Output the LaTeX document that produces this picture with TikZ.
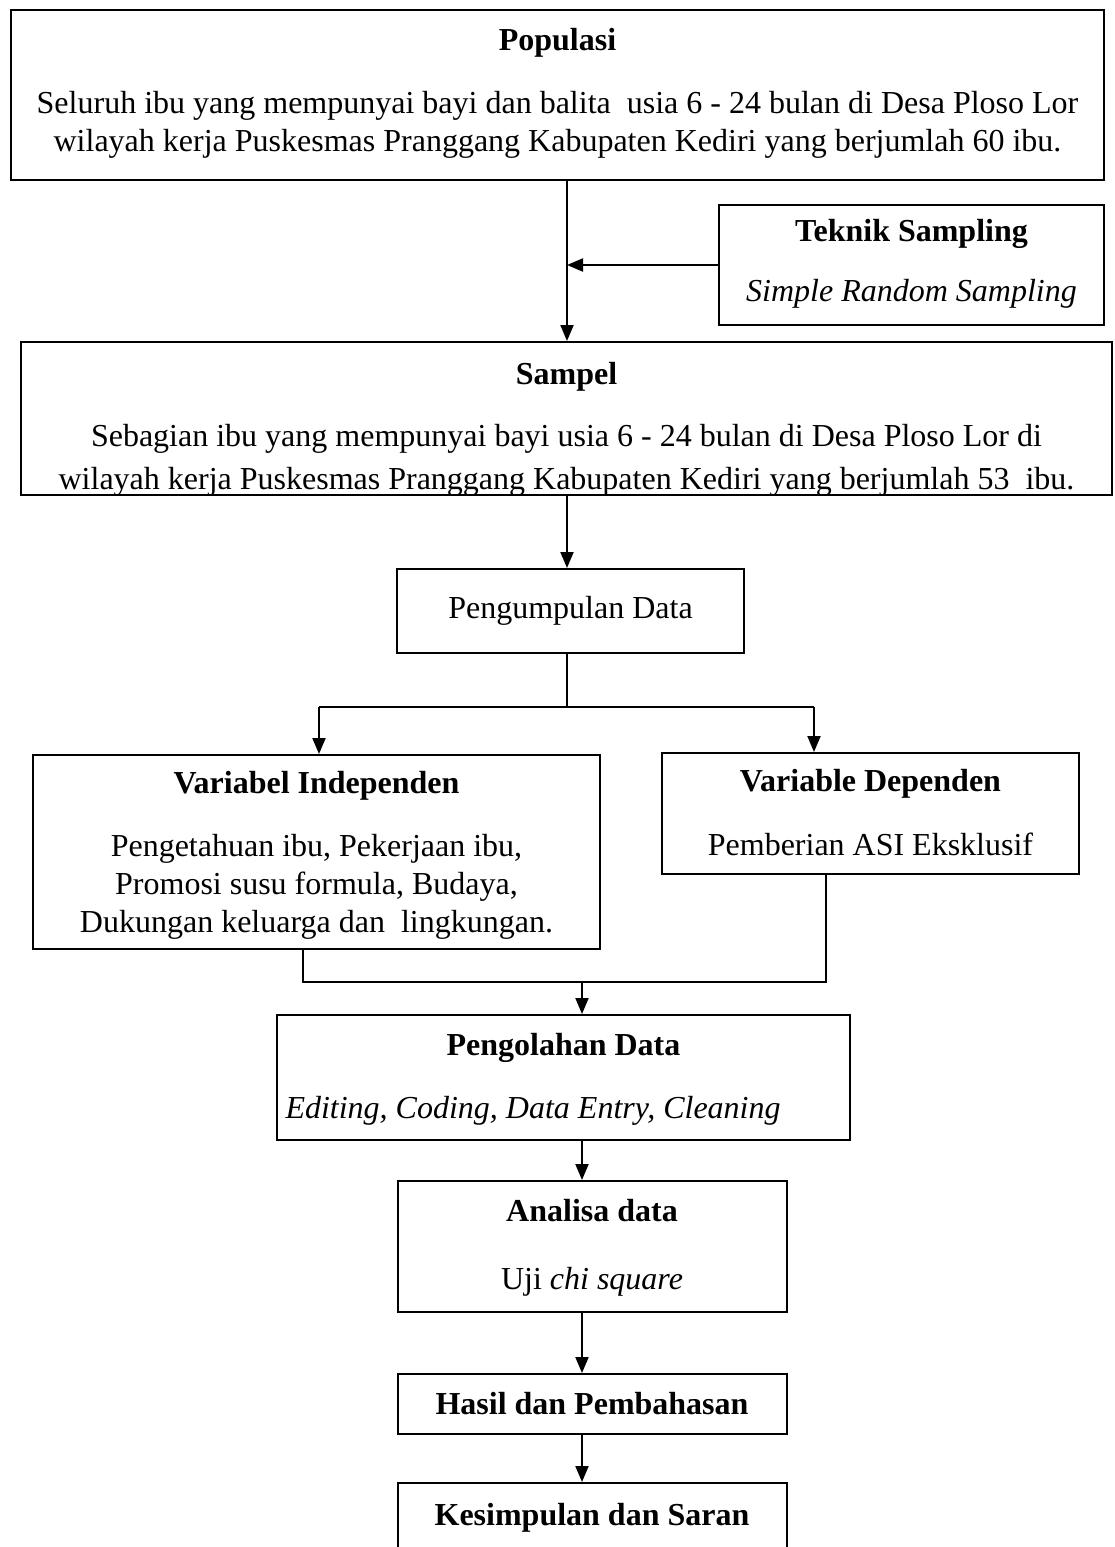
\documentclass[tikz,border=0pt]{standalone}
\usepackage{fontspec}
\setmainfont{Liberation Serif}
\usetikzlibrary{arrows.meta}
\tikzset{>={Triangle[length=8pt,width=6.5pt]}}

\begin{document}
\begin{tikzpicture}[x=0.5pt,y=-0.5pt,line width=1pt,
box/.style={draw,line width=1pt,align=center,inner sep=3pt,
font=\fontsize{16}{19}\selectfont},
low/.style={text height=#1,text depth=0pt}]
\useasboundingbox (0,0) rectangle (1114,1547);
\node[box,low=56pt,minimum width=546.5pt,minimum height=85pt] (pop) at (557.5,95)
{\textbf{Populasi}\\[12.5pt]Seluruh ibu yang mempunyai bayi dan balita\ \ usia 6 - 24 bulan di Desa Ploso Lor\\
wilayah kerja Puskesmas Pranggang Kabupaten Kediri yang berjumlah 60 ibu.};
\node[box,low=36pt,minimum width=192.5pt,minimum height=60pt] (tek) at (911.5,265)
{\textbf{Teknik Sampling}\\[11pt]\textit{Simple Random Sampling}};
\node[box,low=71pt,inner ysep=0pt,minimum width=545.5pt,minimum height=76.5pt] (sam) at (566.5,418.5)
{\textbf{Sampel}\\[12pt]Sebagian ibu yang mempunyai bayi usia 6 - 24 bulan di Desa Ploso Lor di\\[2.5pt]
wilayah kerja Puskesmas Pranggang Kabupaten Kediri yang berjumlah 53\ \ ibu.};
\node[box,minimum width=173.5pt,minimum height=42pt] (kum) at (570.5,611) {Pengumpulan Data};
\node[box,low=80pt,minimum width=283.5pt,minimum height=97pt] (vi) at (316.5,852)
{\textbf{Variabel Independen}\\[12.5pt]Pengetahuan ibu, Pekerjaan ibu,\\
Promosi susu formula, Budaya,\\Dukungan keluarga dan\ \ lingkungan.};
\node[box,low=41.5pt,minimum width=208.5pt,minimum height=60.5pt] (vd) at (870.5,813.5)
{\textbf{Variable Dependen}\\[13pt]Pemberian ASI Eksklusif};
\node[box,low=40.5pt,minimum width=286.5pt,minimum height=62.5pt] (olah) at (563.5,1077.5)
{\textbf{Pengolahan Data}\\[12.5pt]\makebox[278pt][l]{\textit{Editing, Coding, Data Entry, Cleaning}}};
\node[box,low=42.5pt,minimum width=194.5pt,minimum height=65.5pt] (ana) at (592,1246.5)
{\textbf{Analisa data}\\[15pt]Uji \textit{chi square}};
\node[box,minimum width=194.5pt,minimum height=30pt] (has) at (592,1404) {\textbf{Hasil dan Pembahasan}};
\node[box,minimum width=194.5pt,minimum height=34.5pt] (kes) at (592,1517.5) {\textbf{Kesimpulan dan Saran}};
\coordinate (trunk) at (567,0);
\coordinate (lft) at (319,707);
\coordinate (rgt) at (814,707);
\coordinate (jl) at (303,982);
\coordinate (jr) at (826,982);
\coordinate (jm) at (582,982);
\draw[->] (pop.south -| trunk) -- (sam.north -| trunk);
\draw[->] (tek.west) -- (tek.west -| trunk);
\draw[->] (sam.south -| trunk) -- (kum.north -| trunk);
\draw (kum.south -| trunk) -- (trunk |- lft);
\draw (lft) -- (rgt);
\draw[->] (lft) -- (lft |- vi.north);
\draw[->] (rgt) -- (rgt |- vd.north);
\draw (vi.south -| jl) -- (jl) -- (jr) -- (vd.south -| jr);
\draw[->] (jm) -- (jm |- olah.north);
\draw[->] (olah.south -| jm) -- (ana.north -| jm);
\draw[->] (ana.south -| jm) -- (has.north -| jm);
\draw[->] (has.south -| jm) -- (kes.north -| jm);
\end{tikzpicture}
\end{document}
